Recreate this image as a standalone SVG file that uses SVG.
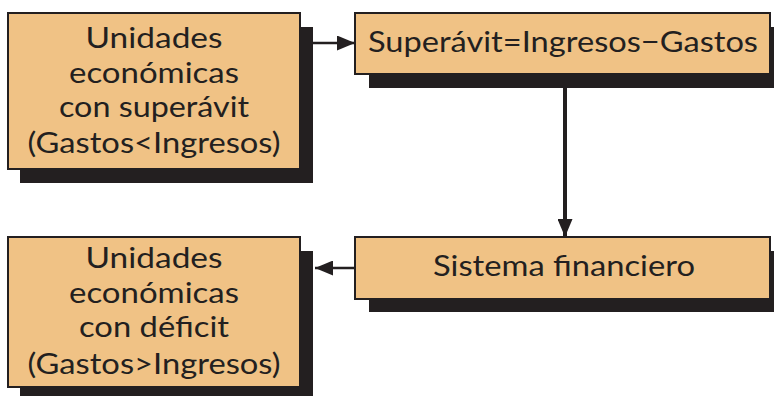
<svg xmlns="http://www.w3.org/2000/svg" width="774" height="396" viewBox="0 0 774 396">
<style>
.shadow{fill:#231f20}
.box{fill:#f0c285;stroke:#231f20;stroke-width:2}
.t{font-family:Lato,"Open Sans","Liberation Sans",sans-serif;font-size:28px;fill:#231f20;text-anchor:middle}
.c{stroke:#231f20;fill:none}
</style>
<defs>
<marker id="ah" viewBox="0 0 18 15" refX="18" refY="7.5" markerWidth="18" markerHeight="15" markerUnits="userSpaceOnUse" orient="auto">
<path d="M0,0 L18,7.5 L0,15 Z" fill="#231f20"/>
</marker>
</defs>
<rect width="774" height="396" fill="#ffffff"/>
<g id="n1">
<rect class="shadow" x="20" y="27" width="293" height="156"/>
<rect class="box" x="8" y="13" width="292" height="156"/>
<text class="t" x="154" y="48" textLength="137" lengthAdjust="spacingAndGlyphs">Unidades</text>
<text class="t" x="154" y="83" textLength="170" lengthAdjust="spacingAndGlyphs">económicas</text>
<text class="t" x="154" y="117" textLength="190" lengthAdjust="spacingAndGlyphs">con superávit</text>
<text class="t" x="154" y="153" textLength="253" lengthAdjust="spacingAndGlyphs">(Gastos&lt;Ingresos)</text>
</g>
<g id="n2">
<rect class="shadow" x="369" y="27" width="410" height="61"/>
<rect class="box" x="355" y="13" width="415" height="61"/>
<text class="t" x="563" y="52" textLength="390" lengthAdjust="spacingAndGlyphs">Superávit=Ingresos−Gastos</text>
</g>
<g id="n3">
<rect class="shadow" x="369" y="251" width="410" height="61"/>
<rect class="box" x="355" y="237" width="415" height="62"/>
<text class="t" x="564" y="276" textLength="262" lengthAdjust="spacingAndGlyphs">Sistema financiero</text>
</g>
<g id="n4">
<rect class="shadow" x="20" y="251" width="293" height="160"/>
<rect class="box" x="8" y="237" width="292" height="150"/>
<text class="t" x="154" y="268" textLength="137" lengthAdjust="spacingAndGlyphs">Unidades</text>
<text class="t" x="154" y="303" textLength="170" lengthAdjust="spacingAndGlyphs">económicas</text>
<text class="t" x="154" y="337" textLength="150" lengthAdjust="spacingAndGlyphs">con déficit</text>
<text class="t" x="154" y="374" textLength="253" lengthAdjust="spacingAndGlyphs">(Gastos&gt;Ingresos)</text>
</g>
<g id="connectors">
<line class="c" x1="313" y1="43" x2="355" y2="43" stroke-width="2.5" marker-end="url(#ah)"/>
<line class="c" x1="565" y1="88" x2="565" y2="237" stroke-width="4" marker-end="url(#ah)"/>
<line class="c" x1="355" y1="268" x2="315" y2="268" stroke-width="2.5" marker-end="url(#ah)"/>
</g>
</svg>
